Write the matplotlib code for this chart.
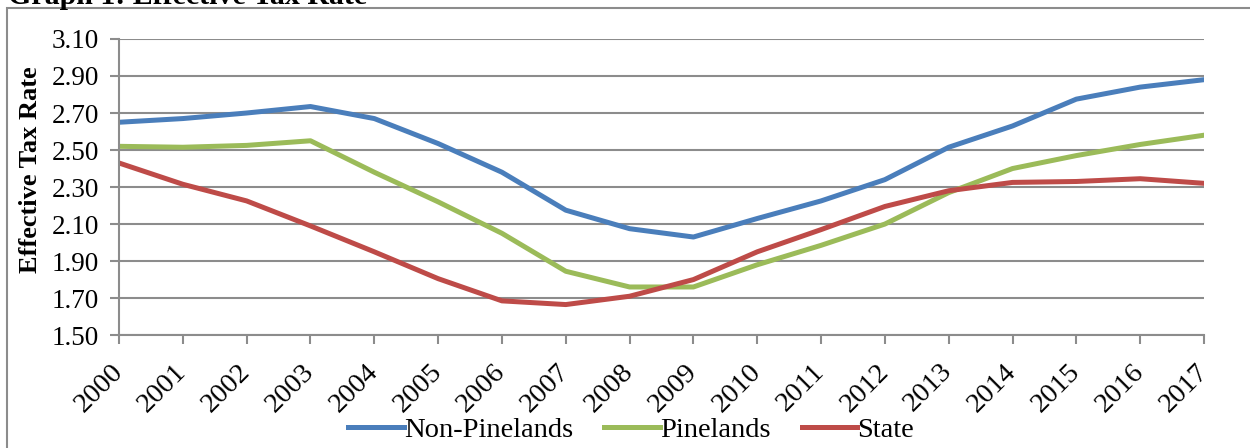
import matplotlib.pyplot as plt
from matplotlib.patches import Rectangle

plt.rcParams['font.family'] = ['Liberation Serif', 'DejaVu Serif']

years = list(range(2000, 2018))
non_pinelands = [2.65, 2.67, 2.70, 2.735, 2.67, 2.535, 2.38, 2.175, 2.075, 2.03,
                 2.13, 2.225, 2.34, 2.515, 2.63, 2.775, 2.84, 2.88]
pinelands = [2.52, 2.515, 2.525, 2.55, 2.38, 2.22, 2.05, 1.845, 1.76, 1.76,
             1.88, 1.985, 2.10, 2.27, 2.40, 2.47, 2.53, 2.58]
state = [2.43, 2.315, 2.225, 2.09, 1.95, 1.805, 1.685, 1.665, 1.71, 1.80,
         1.95, 2.07, 2.195, 2.28, 2.325, 2.33, 2.345, 2.32]
yticks = [1.50, 1.70, 1.90, 2.10, 2.30, 2.50, 2.70, 2.90, 3.10]

fig = plt.figure(figsize=(12.5, 4.48), dpi=100)
ax = fig.add_axes([0.0952, 0.252, 0.868, 0.661])

grey = '#8c8c8c'
ax.plot(years, non_pinelands, color='#4a7ebb', lw=3.6, label='Non-Pinelands')
ax.plot(years, pinelands, color='#9bbb59', lw=3.6, label='Pinelands')
ax.plot(years, state, color='#be4b48', lw=3.6, label='State')

ax.set_xlim(2000, 2017)
ax.set_ylim(1.50, 3.10)
ax.set_yticks(yticks)
ax.set_yticklabels(['%.2f' % v for v in yticks], fontsize=19.5)
ax.set_xticks(years)
ax.set_xticklabels([str(y) for y in years], rotation=45, ha='right', va='center',
                   rotation_mode='anchor', fontsize=20.5)
ax.yaxis.grid(True, color=grey, lw=1.5)
ax.set_axisbelow(True)
for s in ['top', 'right']:
    ax.spines[s].set_visible(False)
for s in ['left', 'bottom']:
    ax.spines[s].set_color(grey)
    ax.spines[s].set_linewidth(1.5)
ax.tick_params(axis='both', color=grey, width=1.5, length=6.5)
ax.tick_params(axis='y', pad=8)
ax.tick_params(axis='x', pad=17)
ax.set_ylabel('Effective Tax Rate', fontsize=19, fontweight='bold')
ax.yaxis.set_label_coords(-0.071, 0.557)

fig.legend(loc='center', bbox_to_anchor=(0.505, 0.04), ncol=3, frameon=False,
           fontsize=20.5, handlelength=1.95, handletextpad=0.0, columnspacing=1.1)

fig.patches.append(Rectangle((7 / 1250, -0.1), 1.2, 1.1 - 8 / 448, transform=fig.transFigure,
                             fill=False, edgecolor=grey, lw=1.5))
fig.text(8 / 1250, 1 - 4 / 448, 'Graph 1: Effective Tax Rate', fontsize=21.5, fontweight='bold',
         ha='left', va='baseline')

fig.savefig('out.png', dpi=100)
